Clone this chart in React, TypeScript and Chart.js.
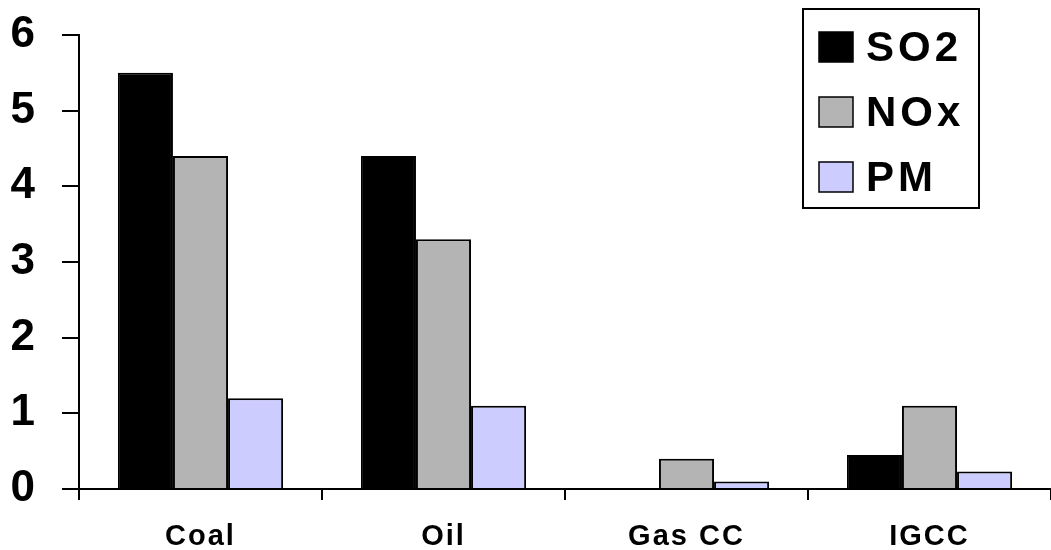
import React, { useEffect, useRef } from "react";
import { Chart, registerables } from "chart.js";

Chart.register(...registerables);

const categories = ["Coal", "Oil", "Gas CC", "IGCC"];
const seriesNames = ["SO2", "NOx", "PM"];
const so2Values = [5.5, 4.4, 0, 0.45];
const noxValues = [4.4, 3.3, 0.4, 1.1];
const pmValues = [1.2, 1.1, 0.1, 0.23];
const yTicks = [0, 1, 2, 3, 4, 5, 6];

const colors = ["#000000", "#b4b4b4", "#ccccff"];
const FONT = "'Liberation Sans', Arial, sans-serif";

const legendPlugin = {
  id: "boxLegend",
  beforeDraw(chart: any) {
    (chart.ctx as any).letterSpacing = "2px";
  },
  afterDraw(chart: any) {
    const ctx = chart.ctx as CanvasRenderingContext2D;
    ctx.save();
    const bx = 803, by = 9, bw = 176, bh = 199;
    ctx.fillStyle = "#ffffff";
    ctx.fillRect(bx, by, bw, bh);
    ctx.lineWidth = 2;
    ctx.strokeStyle = "#000000";
    ctx.strokeRect(bx, by, bw, bh);
    ctx.font = `bold 42px ${FONT}`;
    (ctx as any).letterSpacing = "4px";
    ctx.textBaseline = "middle";
    ctx.textAlign = "left";
    chart.data.datasets.forEach((ds: any, i: number) => {
      const cy = 47 + i * 65;
      ctx.fillStyle = ds.backgroundColor;
      ctx.fillRect(819, cy - 15, 34, 30);
      ctx.lineWidth = 1.5;
      ctx.strokeStyle = "#000000";
      ctx.strokeRect(819, cy - 15, 34, 30);
      ctx.fillStyle = "#000000";
      ctx.fillText(ds.label, 866, cy + 2);
    });
    ctx.restore();
  },
};

export default function App() {
  const ref = useRef<HTMLCanvasElement | null>(null);
  useEffect(() => {
    if (!ref.current) return;
    const seriesValues = [so2Values, noxValues, pmValues];
    const chart = new Chart(ref.current, {
      type: "bar",
      data: {
        labels: categories,
        datasets: seriesNames.map((name, i) => ({
          label: name,
          data: seriesValues[i],
          backgroundColor: colors[i],
          borderColor: "#000000",
          borderWidth: 2,
          categoryPercentage: 0.68,
          barPercentage: 1,
        })),
      },
      options: {
        animation: false,
        responsive: false,
        maintainAspectRatio: false,
        layout: { padding: { top: 35, right: 0, left: 0, bottom: 0 } },
        plugins: { legend: { display: false }, tooltip: { enabled: false } },
        scales: {
          x: {
            grid: {
              display: true,
              drawOnChartArea: false,
              drawTicks: true,
              tickLength: 11,
              color: "#000000",
              lineWidth: 2,
              offset: true,
            },
            border: { display: true, color: "#000000", width: 2 },
            ticks: {
              color: "#000000",
              font: { family: FONT, size: 29, weight: "bold" },
              padding: 20,
              maxRotation: 0,
            },
            afterFit(scale: any) {
              scale.height = 61;
              scale.paddingLeft = 0;
              scale.paddingRight = 0;
            },
          },
          y: {
            min: 0,
            max: 6,
            afterBuildTicks(scale: any) {
              scale.ticks = yTicks.map((v) => ({ value: v }));
            },
            grid: {
              display: true,
              drawOnChartArea: false,
              drawTicks: true,
              tickLength: 17,
              color: "#000000",
              lineWidth: 2,
            },
            border: { display: true, color: "#000000", width: 2 },
            ticks: {
              color: "#000000",
              font: { family: FONT, size: 44, weight: "bold" },
              padding: 25,
            },
            afterFit(scale: any) {
              scale.width = 79;
              scale.paddingTop = 0;
              scale.paddingBottom = 0;
            },
          },
        },
      },
      plugins: [legendPlugin],
    });
    return () => chart.destroy();
  }, []);
  return (
    <div style={{ position: "absolute", left: 0, top: 0, width: 1051, height: 550, background: "#fff" }}>
      <canvas ref={ref} width={1051} height={550} style={{ width: 1051, height: 550 }} />
    </div>
  );
}
